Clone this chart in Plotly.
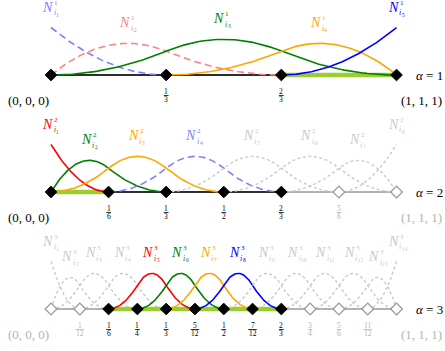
import numpy as np
import plotly.graph_objects as go

# ---------------- data ----------------
degree = 2
level_names = ["1", "2", "3"]

level1_breaks = [0, 1/3, 2/3, 1]
level2_breaks = [0, 1/6, 1/3, 1/2, 2/3, 5/6, 1]
level3_breaks = [0, 1/12, 1/6, 1/4, 1/3, 5/12, 1/2, 7/12, 2/3, 3/4, 5/6, 11/12, 1]

level1_tick_labels = ["(0, 0, 0)", "1/3", "2/3", "(1, 1, 1)"]
level2_tick_labels = ["(0, 0, 0)", "1/6", "1/3", "1/2", "2/3", "5/6", "(1, 1, 1)"]
level3_tick_labels = ["(0, 0, 0)", "1/12", "1/6", "1/4", "1/3", "5/12", "1/2",
                      "7/12", "2/3", "3/4", "5/6", "11/12", "(1, 1, 1)"]

level1_active_knots = [1, 1, 1, 1]
level2_active_knots = [1, 1, 1, 1, 1, 0, 0]
level3_active_knots = [0, 0, 1, 1, 1, 1, 1, 1, 1, 0, 0, 0, 0]

level1_black_span = [0, 1]
level2_black_span = [0, 2/3]
level3_black_span = [1/6, 2/3]

level1_highlight = [2/3, 1]
level2_highlight = [0, 1/6]
level3_highlight = [1/6, 2/3]

level1_curve_kinds = ["blue_dash", "red_dash", "green", "orange", "blue"]
level2_curve_kinds = ["red", "green", "orange", "blue_dash", "gray", "gray", "gray", "gray"]
level3_curve_kinds = ["gray"] * 4 + ["red", "green", "orange", "blue"] + ["gray"] * 6

# ---------------- styles ----------------
STY = {
    "blue_dash": dict(color="#8080ff", dash="7px,4px", width=1.6),
    "red_dash": dict(color="#ff8080", dash="7px,4px", width=1.6),
    "green": dict(color="#008000", dash="solid", width=1.6),
    "orange": dict(color="#ffa500", dash="solid", width=1.6),
    "blue": dict(color="#0000ff", dash="solid", width=1.6),
    "red": dict(color="#ff0000", dash="solid", width=1.6),
    "gray": dict(color="#cacaca", dash="3px,2.5px", width=1.4),
}
FONT = "Liberation Serif"
GRAY_TXT = "#b4b4b4"
X0_PX, SCALE_PX, W, H = 51.0, 345.5, 445, 351
UNIT_PX = 47.5


def basis(knots, i, p, x):
    if p == 0:
        return np.where((knots[i] <= x) & (x < knots[i + 1]), 1.0, 0.0)
    out = np.zeros_like(x)
    d1 = knots[i + p] - knots[i]
    if d1 > 0:
        out += (x - knots[i]) / d1 * basis(knots, i, p - 1, x)
    d2 = knots[i + p + 1] - knots[i + 1]
    if d2 > 0:
        out += (knots[i + p + 1] - x) / d2 * basis(knots, i + 1, p - 1, x)
    return out


def label(x, y, yref, text, size, color, xanchor, xshift, yshift):
    return dict(x=x, y=y, xref="x", yref=yref, text=text, showarrow=False,
                xanchor=xanchor, yanchor="middle", xshift=xshift, yshift=yshift, borderpad=0,
                font=dict(family=FONT, size=size, color=color))


fig = go.Figure()
annotations = []
shapes = []

levels = [
    (level1_breaks, level1_tick_labels, level1_active_knots, level1_black_span, level1_highlight, level1_curve_kinds),
    (level2_breaks, level2_tick_labels, level2_active_knots, level2_black_span, level2_highlight, level2_curve_kinds),
    (level3_breaks, level3_tick_labels, level3_active_knots, level3_black_span, level3_highlight, level3_curve_kinds),
]

for li, (brk, ticks, active, black_span, hl, kinds) in enumerate(levels):
    yax = "y" if li == 0 else f"y{li + 1}"
    # baselines
    fig.add_trace(go.Scatter(x=[brk[0], brk[-1]], y=[0, 0], mode="lines", yaxis=yax,
                             line=dict(color="#999999", width=1.6), hoverinfo="skip", showlegend=False))
    fig.add_trace(go.Scatter(x=black_span, y=[0, 0], mode="lines", yaxis=yax,
                             line=dict(color="black", width=1.6), hoverinfo="skip", showlegend=False))
    fig.add_trace(go.Scatter(x=hl, y=[0, 0], mode="lines", yaxis=yax,
                             line=dict(color="#9acd32", width=4.5), hoverinfo="skip", showlegend=False))
    # basis functions
    knots = [brk[0]] * degree + list(brk) + [brk[-1]] * degree
    n = len(knots) - degree - 1
    for i in range(n):
        a, b = knots[i], knots[i + degree + 1]
        xs = np.linspace(a, b, 120)
        ys = basis(knots, i, degree, np.clip(xs, 0, 1 - 1e-12))
        st = STY[kinds[i]]
        fig.add_trace(go.Scatter(x=xs, y=ys, mode="lines", yaxis=yax,
                                 line=dict(color=st["color"], dash=st["dash"], width=st["width"]),
                                 hoverinfo="skip", showlegend=False))
        k = int(np.argmax(ys))
        xp, yp = xs[k], ys[k]
        col = st["color"]
        idx = str(i + 1)
        annotations.append(label(xp, yp, yax, "<i>N</i>", 14, col, "right", 3, 20.5))
        annotations.append(label(xp, yp, yax, level_names[li], 7, col, "left", 2, 25))
        annotations.append(label(xp, yp, yax, "<i>i</i>", 8, col, "left", 1.5, 15))
        annotations.append(label(xp, yp, yax, idx, 5.5, col, "left", 4.3, 13))
    # knots diamonds
    xs_on = [x for x, a in zip(brk, active) if a]
    xs_off = [x for x, a in zip(brk, active) if not a]
    if xs_off:
        fig.add_trace(go.Scatter(x=xs_off, y=[0] * len(xs_off), mode="markers", yaxis=yax,
                                 marker=dict(symbol="diamond", size=9, color="white",
                                             line=dict(color="#999999", width=1.3)),
                                 hoverinfo="skip", showlegend=False))
    fig.add_trace(go.Scatter(x=xs_on, y=[0] * len(xs_on), mode="markers", yaxis=yax,
                             marker=dict(symbol="diamond", size=9, color="black",
                                         line=dict(color="black", width=1)),
                             hoverinfo="skip", showlegend=False))
    # tick labels
    for j, (x, lab, a) in enumerate(zip(brk, ticks, active)):
        col = "black" if a else GRAY_TXT
        if "/" in lab:
            num, den = lab.split("/")
            annotations.append(label(x, 0, yax, num, 7.5, col, "center", 0, -16))
            annotations.append(label(x, 0, yax, den, 7.5, col, "center", 0, -24))
            half = (3.8 * len(den) + 1.0) / 2 / SCALE_PX
            ybar = -20.5 / UNIT_PX
            shapes.append(dict(type="line", xref="x", yref=yax, x0=x - half, x1=x + half,
                               y0=ybar, y1=ybar, line=dict(color=col, width=0.8)))
        else:
            left = j == 0
            annotations.append(label(x, 0, yax, lab, 13, col, "right" if left else "left",
                                     -1 if left else 3, -25))
    annotations.append(label(brk[-1], 0, yax, f"<i>α</i> = {level_names[li]}", 13, "black",
                             "left", 18, 0))

yr = [-(117 - 75) / UNIT_PX, 75 / UNIT_PX]
fig.update_layout(
    width=W, height=H, margin=dict(l=0, r=0, t=0, b=0),
    paper_bgcolor="white", plot_bgcolor="white",
    xaxis=dict(range=[-X0_PX / SCALE_PX, (W - X0_PX) / SCALE_PX], visible=False, domain=[0, 1]),
    yaxis=dict(range=yr, domain=[2 / 3, 1], visible=False),
    yaxis2=dict(range=yr, domain=[1 / 3, 2 / 3], visible=False, anchor="x"),
    yaxis3=dict(range=yr, domain=[0, 1 / 3], visible=False, anchor="x"),
    annotations=annotations, shapes=shapes, showlegend=False,
)
fig.write_html("out.html", config={"displayModeBar": False},
               post_script="document.body.style.margin='0px';")
